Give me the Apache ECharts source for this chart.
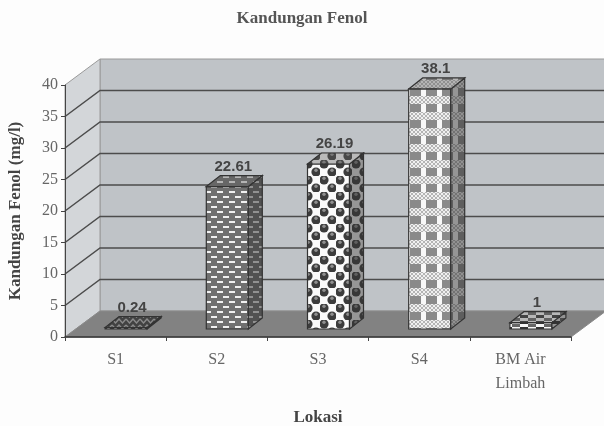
<!DOCTYPE html>
<html><head><meta charset="utf-8">
<style>html,body{margin:0;padding:0;background:#fdfdfd}#c{width:604px;height:426px}</style>
<script src="https://cdn.jsdelivr.net/npm/echarts@6/dist/echarts.min.js"></script>
</head><body><div id="c"></div>
<script>
const categories = ['S1','S2','S3','S4','BM Air\nLimbah'];
const values = [0.24,22.61,26.19,38.1,1];
const valueLabels = ['0.24','22.61','26.19','38.1','1'];
const yTicks = [0,5,10,15,20,25,30,35,40];
const titleText = 'Kandungan Fenol';
const yName = 'Kandungan Fenol (mg/l)';
const xName = 'Lokasi';

const SERIF = '"Liberation Serif", serif';
const WALL_DX = 35, WALL_DY = 26;
const BAR_SHIFT = 10.5, BAR_W = 42, BAR_BASE = 8, BAR_DX = 14, BAR_DY = 11;

function tile(w,h,draw){
  const c=document.createElement('canvas');c.width=w;c.height=h;
  draw(c.getContext('2d'));
  return {image:c,repeat:'repeat'};
}
const patterns = [
  tile(14,6,g=>{g.fillStyle='#333';g.fillRect(0,0,14,6);g.strokeStyle='#aaa';g.lineWidth=1.4;
    g.beginPath();g.moveTo(0,1);g.lineTo(3.5,5);g.lineTo(7,1);g.lineTo(10.5,5);g.lineTo(14,1);g.stroke();}),
  tile(12,10,g=>{g.fillStyle='#707070';g.fillRect(0,0,12,10);g.fillStyle='#f0f0f0';
    g.fillRect(1,1,6,2);g.fillRect(7,6,6,2);g.fillRect(-5,6,6,2);}),
  tile(16,16,g=>{g.fillStyle='#fafafa';g.fillRect(0,0,16,16);
    [[4,4],[12,12]].forEach(p=>{g.fillStyle='#3c3c3c';g.beginPath();g.arc(p[0],p[1],4.6,0,7);g.fill();
    g.fillStyle='#8f8f8f';g.beginPath();g.arc(p[0],p[1]-1.8,1.7,0,7);g.fill();});}),
  tile(16,16,g=>{g.fillStyle='#f8f8f8';g.fillRect(0,0,16,16);g.fillStyle='#8a8a8a';
    g.fillRect(0,8,5,8);g.fillRect(10,8,6,8);
    g.fillStyle='#b4b4b4';g.fillRect(0,0,16,8);
    g.strokeStyle='#f0f0f0';g.lineWidth=1;g.beginPath();
    for(let i=-8;i<24;i+=4){g.moveTo(i,0);g.lineTo(i+8,8);g.moveTo(i+8,0);g.lineTo(i,8);}g.stroke();}),
  tile(16,6,g=>{g.fillStyle='#f6f6f6';g.fillRect(0,0,16,6);g.fillStyle='#666';g.fillRect(0,0,8,3);g.fillStyle='#333';g.fillRect(8,3,8,3);})
];

function renderWalls(params,api){
  const r=params.coordSys, L=r.x, R=r.x+r.width;
  const yAt=v=>api.coord([0,v])[1];
  const y0=yAt(0), yT=yAt(yTicks[yTicks.length-1]);
  const kids=[
    {type:'polygon',shape:{points:[[L+WALL_DX,yT-WALL_DY],[R+WALL_DX,yT-WALL_DY],[R+WALL_DX,y0-WALL_DY],[L+WALL_DX,y0-WALL_DY]]},
      style:{fill:'#bfc3c7',stroke:'#9a9a9a',lineWidth:1}},
    {type:'polygon',shape:{points:[[L,yT],[L+WALL_DX,yT-WALL_DY],[L+WALL_DX,y0-WALL_DY],[L,y0]]},
      style:{fill:'#d3d6d9',stroke:'#9a9a9a',lineWidth:1}},
    {type:'polygon',shape:{points:[[L,y0],[L+WALL_DX,y0-WALL_DY],[R+WALL_DX,y0-WALL_DY],[R,y0]]},
      style:{fill:'#828282',stroke:'#8a8a8a',lineWidth:1}}
  ];
  yTicks.forEach(v=>{
    if(v===0||v===yTicks[yTicks.length-1])return;
    const y=yAt(v);
    kids.push({type:'polyline',shape:{points:[[L,y],[L+WALL_DX,y-WALL_DY],[R+WALL_DX,y-WALL_DY]]},
      style:{fill:'none',stroke:'#4c4c4c',lineWidth:1.5}});
  });
  return {type:'group',children:kids};
}
function renderBar(params,api){
  const i=api.value(0), v=api.value(1);
  const cx=api.coord([i,0])[0]+BAR_SHIFT;
  const h=api.coord([i,0])[1]-api.coord([i,v])[1];
  const b=api.coord([i,0])[1]-BAR_BASE, t=b-h;
  const l=cx-BAR_W/2, r=cx+BAR_W/2;
  const line={stroke:'#333',lineWidth:1.2};
  const front=[[l,t],[r,t],[r,b],[l,b]];
  const side=[[r,t],[r+BAR_DX,t-BAR_DY],[r+BAR_DX,b-BAR_DY],[r,b]];
  const top=[[l,t],[l+BAR_DX,t-BAR_DY],[r+BAR_DX,t-BAR_DY],[r,t]];
  const pat=patterns[params.dataIndex];
  return {type:'group',children:[
    {type:'polygon',shape:{points:front},style:Object.assign({fill:pat},line)},
    {type:'polygon',shape:{points:side},style:{fill:pat}},
    {type:'polygon',shape:{points:side},style:Object.assign({fill:'rgba(50,50,50,0.5)'},line)},
    {type:'polygon',shape:{points:top},style:{fill:pat}},
    {type:'polygon',shape:{points:top},style:Object.assign({fill:'rgba(90,90,90,0.4)'},line)},
    {type:'text',style:{x:cx+6,y:t-BAR_DY-9,text:valueLabels[params.dataIndex],align:'center',verticalAlign:'middle',
      font:'bold 15px "Liberation Sans", sans-serif',fill:'#444'}}
  ]};
}
const chart=echarts.init(document.getElementById('c'),null,{renderer:'canvas'});
chart.setOption({
  animation:false,
  backgroundColor:'#fdfdfd',
  title:{text:titleText,left:'center',top:5,textStyle:{fontFamily:SERIF,fontWeight:'bold',fontSize:17,color:'#555'}},
  grid:{left:65,right:33,top:85,bottom:89,outerBoundsMode:'none'},
  xAxis:{type:'category',data:categories,boundaryGap:true,z:5,
    axisLine:{lineStyle:{color:'#333',width:1.5}},
    axisTick:{show:true,alignWithLabel:false,length:4,lineStyle:{color:'#444'}},
    axisLabel:{fontFamily:SERIF,fontSize:16,color:'#666',margin:11,lineHeight:24,interval:0},
    name:xName,nameLocation:'middle',nameGap:72,
    nameTextStyle:{fontFamily:SERIF,fontWeight:'bold',fontSize:17,color:'#444'}},
  yAxis:{type:'value',min:0,max:40,interval:5,z:5,
    axisLine:{show:true,lineStyle:{color:'#444',width:1}},
    axisTick:{show:true,length:4,lineStyle:{color:'#444'}},
    splitLine:{show:false},
    axisLabel:{fontFamily:SERIF,fontSize:16,color:'#666',margin:7},
    name:yName,nameLocation:'middle',nameGap:41,
    nameTextStyle:{fontFamily:SERIF,fontWeight:'bold',fontSize:17,color:'#444'}},
  series:[
    {type:'custom',silent:true,coordinateSystem:'cartesian2d',clip:false,z:1,data:[[0,0]],encode:{x:0,y:1},renderItem:renderWalls},
    {type:'custom',silent:true,coordinateSystem:'cartesian2d',clip:false,z:2,data:values.map((v,i)=>[i,v]),encode:{x:0,y:1},renderItem:renderBar}
  ]
});
</script></body></html>
